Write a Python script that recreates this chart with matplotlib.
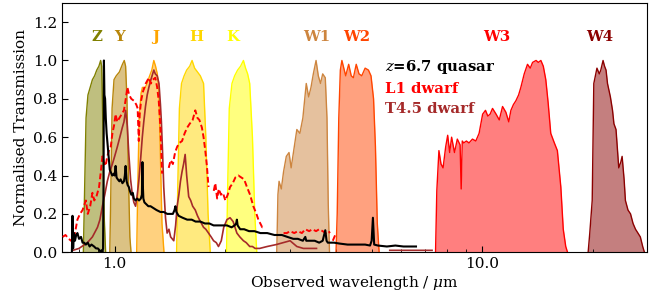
import numpy as np
import matplotlib
matplotlib.use("Agg")
import matplotlib.pyplot as plt
from matplotlib.ticker import FormatStrFormatter, NullFormatter, LogLocator

plt.rcParams['font.family'] = 'DejaVu Serif'
plt.rcParams['mathtext.fontset'] = 'dejavuserif'

# filter curves: (wavelength in micron, normalised transmission)
z_wav = [0.822, 0.828, 0.836, 0.846, 0.858, 0.870, 0.882, 0.894, 0.906, 0.916, 0.922, 0.928, 0.936, 0.945]
z_tr = [0.0, 0.30, 0.70, 0.82, 0.86, 0.90, 0.92, 0.95, 0.97, 1.0, 0.97, 0.70, 0.20, 0.0]
y_wav = [0.970, 0.976, 0.984, 0.996, 1.010, 1.030, 1.050, 1.062, 1.071, 1.080, 1.090, 1.100, 1.108]
y_tr = [0.0, 0.30, 0.75, 0.90, 0.92, 0.94, 0.98, 1.0, 0.97, 0.80, 0.40, 0.08, 0.0]
j_wav = [1.148, 1.156, 1.166, 1.180, 1.190, 1.205, 1.225, 1.245, 1.262, 1.278, 1.292, 1.306, 1.318, 1.330, 1.345, 1.362]
j_tr = [0.0, 0.35, 0.70, 0.83, 0.86, 0.85, 0.88, 0.92, 0.95, 1.0, 0.97, 0.93, 0.86, 0.55, 0.15, 0.0]
h_wav = [1.474, 1.485, 1.500, 1.520, 1.545, 1.570, 1.600, 1.624, 1.650, 1.680, 1.710, 1.745, 1.770, 1.795, 1.820]
h_tr = [0.0, 0.35, 0.75, 0.88, 0.92, 0.95, 0.97, 1.0, 0.96, 0.94, 0.92, 0.88, 0.60, 0.20, 0.0]
k_wav = [2.015, 2.030, 2.050, 2.085, 2.120, 2.160, 2.200, 2.240, 2.270, 2.300, 2.330, 2.370, 2.405, 2.435]
k_tr = [0.0, 0.35, 0.75, 0.88, 0.92, 0.95, 0.97, 1.0, 0.96, 0.93, 0.88, 0.60, 0.20, 0.0]
w1_wav = [2.76, 2.78, 2.80, 2.84, 2.88, 2.93, 2.98, 3.02, 3.08, 3.13, 3.19, 3.25, 3.32, 3.37, 3.42, 3.47,
          3.53, 3.58, 3.63, 3.68, 3.74, 3.78, 3.81, 3.84]
w1_tr = [0.0, 0.30, 0.37, 0.33, 0.42, 0.50, 0.52, 0.44, 0.55, 0.64, 0.62, 0.70, 0.88, 0.81, 0.86, 0.93,
         1.0, 0.92, 0.88, 0.93, 0.91, 0.70, 0.25, 0.0]
w2_wav = [4.00, 4.03, 4.07, 4.11, 4.15, 4.25, 4.33, 4.40, 4.46, 4.54, 4.62, 4.70, 4.80, 4.90, 4.98, 5.06, 5.12, 5.18, 5.24]
w2_tr = [0.0, 0.20, 0.70, 0.95, 1.0, 0.92, 0.98, 0.92, 0.91, 0.98, 0.93, 0.92, 0.96, 0.95, 0.92, 0.80, 0.55, 0.15, 0.0]
w3_wav = [7.46, 7.52, 7.62, 7.72, 7.82, 7.95, 8.05, 8.15, 8.25, 8.40, 8.55, 8.70, 8.76, 8.82, 8.90, 9.05,
          9.20, 9.40, 9.60, 9.80, 10.02, 10.20, 10.35, 10.50, 10.66, 10.90, 11.12, 11.35, 11.59, 11.80, 11.96,
          12.15, 12.34, 12.55, 12.73, 13.00, 13.27, 13.50, 13.70, 14.00, 14.20, 14.43, 14.65, 14.88, 15.10,
          15.35, 15.70, 16.00, 16.35, 16.60, 16.86, 17.05]
w3_tr = [0.0, 0.32, 0.53, 0.46, 0.44, 0.55, 0.61, 0.52, 0.60, 0.52, 0.59, 0.56, 0.33, 0.58, 0.57, 0.58,
         0.57, 0.59, 0.58, 0.62, 0.72, 0.74, 0.71, 0.72, 0.75, 0.72, 0.69, 0.76, 0.73, 0.68, 0.74,
         0.77, 0.79, 0.82, 0.86, 0.93, 0.98, 0.96, 0.99, 1.0, 0.99, 1.0, 0.97, 0.90, 0.78,
         0.62, 0.57, 0.53, 0.34, 0.12, 0.03, 0.0]
w4_wav = [19.4, 19.6, 19.9, 20.1, 20.3, 20.5, 20.8, 21.0, 21.3, 21.5, 21.7, 21.9, 22.3, 22.6, 22.8, 23.1,
          23.5, 23.8, 24.0, 24.3, 24.5, 24.9, 25.3, 25.7, 26.1, 26.5, 26.9, 27.3, 27.6]
w4_tr = [0.0, 0.10, 0.27, 0.88, 0.92, 0.96, 0.93, 0.95, 1.0, 0.97, 0.95, 0.88, 0.81, 0.74, 0.67, 0.64,
         0.44, 0.47, 0.50, 0.38, 0.27, 0.22, 0.20, 0.15, 0.12, 0.10, 0.08, 0.03, 0.0]

filters = [
    ("Z", z_wav, z_tr, "olive", 0.897),
    ("Y", y_wav, y_tr, "darkgoldenrod", 1.03),
    ("J", j_wav, j_tr, "orange", 1.29),
    ("H", h_wav, h_tr, "gold", 1.67),
    ("K", k_wav, k_tr, "yellow", 2.10),
    ("W1", w1_wav, w1_tr, "peru", 3.54),
    ("W2", w2_wav, w2_tr, "orangered", 4.55),
    ("W3", w3_wav, w3_tr, "red", 10.95),
    ("W4", w4_wav, w4_tr, "darkred", 20.8),
]

# z=6.7 quasar spectrum
qso_wav = [0.765, 0.768, 0.771, 0.775, 0.780, 0.786, 0.792, 0.800, 0.810, 0.818, 0.826, 0.835, 0.845, 0.855,
           0.865, 0.879, 0.890, 0.900, 0.910, 0.916, 0.922, 0.926, 0.930, 0.933, 0.935, 0.938, 0.942, 0.946,
           0.951, 0.958, 0.965, 0.970, 0.975, 0.985, 0.995, 1.000, 1.006, 1.012, 1.020, 1.030, 1.038, 1.050,
           1.060, 1.066, 1.071, 1.078, 1.085, 1.093, 1.100, 1.110, 1.120, 1.128, 1.140, 1.152, 1.165, 1.178,
           1.186, 1.190, 1.193, 1.197, 1.205, 1.220, 1.235, 1.252, 1.275, 1.300, 1.332, 1.360, 1.390, 1.418,
           1.440, 1.455, 1.463, 1.472, 1.493, 1.530, 1.575, 1.620, 1.660, 1.710, 1.760, 1.810, 1.858, 1.920,
           1.970, 2.020, 2.080, 2.120, 2.140, 2.150, 2.160, 2.195, 2.250, 2.320, 2.400, 2.490, 2.600, 2.720,
           2.850, 2.950, 3.060, 3.150, 3.250, 3.300, 3.320, 3.400, 3.500, 3.600, 3.680, 3.740, 3.770, 3.800,
           3.850, 3.950, 4.100, 4.300, 4.500, 4.630, 4.800, 4.950, 5.000, 5.040, 5.080, 5.200, 5.500, 5.800,
           6.100, 6.400, 6.600]
qso_flux = [0.0, 0.19, 0.02, 0.10, 0.06, 0.09, 0.10, 0.07, 0.08, 0.05, 0.05, 0.04, 0.05, 0.03,
            0.04, 0.03, 0.02, 0.02, 0.01, 0.0, 0.01, 0.0, 0.02, 0.40, 1.0, 0.82, 0.80, 0.70,
            0.62, 0.55, 0.48, 0.43, 0.42, 0.40, 0.41, 0.40, 0.45, 0.39, 0.38, 0.37, 0.38, 0.36,
            0.37, 0.40, 0.45, 0.37, 0.35, 0.34, 0.32, 0.30, 0.31, 0.28, 0.27, 0.28, 0.27, 0.28,
            0.30, 0.47, 0.35, 0.28, 0.26, 0.25, 0.24, 0.24, 0.23, 0.22, 0.21, 0.21, 0.20, 0.20,
            0.20, 0.22, 0.24, 0.21, 0.19, 0.18, 0.17, 0.17, 0.16, 0.16, 0.15, 0.15, 0.14, 0.14,
            0.14, 0.14, 0.13, 0.14, 0.15, 0.17, 0.14, 0.12, 0.12, 0.11, 0.11, 0.10, 0.10, 0.09,
            0.09, 0.08, 0.07, 0.07, 0.06, 0.08, 0.06, 0.06, 0.06, 0.05, 0.06, 0.115, 0.06, 0.05,
            0.05, 0.05, 0.045, 0.04, 0.04, 0.04, 0.04, 0.035, 0.06, 0.18, 0.04, 0.035, 0.03, 0.035,
            0.03, 0.03, 0.03]

# L1 dwarf spectrum (NaN = gap)
l1_wav = [0.722, 0.735, 0.750, 0.768, 0.780, 0.792, 0.805, 0.818, 0.828, 0.835, 0.845, 0.858, 0.870, 0.880,
          0.892, 0.907, 0.917, 0.926, 0.935, 0.945, 0.955, 0.965, 0.976, 0.986, 0.996, 1.006, 1.016, 1.030,
          1.045, 1.060, 1.072, 1.083, 1.095, 1.110, 1.128, 1.145, 1.155, 1.163, 1.170, 1.180, 1.195, 1.215,
          1.239, 1.255, 1.270, 1.290, 1.305, 1.318, 1.332, 1.346, np.nan,
          1.403, 1.420, 1.440, 1.460, 1.479, 1.500, 1.525, 1.550, 1.575, 1.600, 1.630, 1.657, 1.680, 1.700,
          1.727, 1.745, 1.764, 1.782, 1.800, np.nan,
          1.860, 1.878, 1.900, 1.920, 1.945, 1.970, 2.000, 2.030, 2.060, 2.095, 2.130, 2.170, 2.210, 2.250,
          2.290, 2.335, 2.383, 2.430, 2.460, 2.490, 2.520, 2.550, np.nan,
          2.880, 2.940, 3.000, 3.080, 3.150, 3.230, 3.300, 3.380, 3.450, 3.530, 3.600, 3.680, 3.750, 3.820,
          3.850, np.nan, 3.920, 3.960, 4.000]
l1_flux = [0.08, 0.09, 0.07, 0.054, 0.10, 0.17, 0.20, 0.22, 0.25, 0.27, 0.20, 0.24, 0.31, 0.27,
           0.29, 0.34, 0.42, 0.50, 0.47, 0.45, 0.50, 0.53, 0.55, 0.62, 0.66, 0.72, 0.68, 0.70,
           0.72, 0.74, 0.80, 0.86, 0.82, 0.80, 0.79, 0.77, 0.75, 0.58, 0.72, 0.79, 0.84, 0.88,
           0.91, 0.88, 0.90, 0.91, 0.86, 0.79, 0.65, 0.41, np.nan,
           0.44, 0.48, 0.46, 0.52, 0.55, 0.57, 0.58, 0.62, 0.65, 0.67, 0.69, 0.74, 0.70, 0.69,
           0.65, 0.60, 0.53, 0.45, 0.34, np.nan,
           0.32, 0.36, 0.28, 0.33, 0.30, 0.31, 0.27, 0.30, 0.34, 0.36, 0.39, 0.40, 0.39, 0.38,
           0.34, 0.30, 0.24, 0.20, 0.17, 0.15, 0.13, 0.14, np.nan,
           0.10, 0.10, 0.11, 0.10, 0.11, 0.10, 0.12, 0.11, 0.12, 0.11, 0.12, 0.11, 0.10, 0.11,
           0.10, np.nan, 0.06, 0.08, 0.10]

# T4.5 dwarf spectrum
t45_wav = [0.770, 0.800, 0.843, 0.870, 0.898, 0.912, 0.926, 0.940, 0.955, 0.970, 0.986, 1.000, 1.017, 1.033,
           1.049, 1.060, 1.071, 1.082, 1.093, 1.105, 1.117, 1.128, 1.140, 1.152, 1.163, 1.176, 1.189, 1.200,
           1.213, 1.226, 1.239, 1.255, 1.278, 1.290, 1.305, 1.320, 1.332, 1.340, 1.350, 1.360, 1.375, 1.389,
           1.405, 1.420, 1.448, 1.465, 1.479, 1.495, 1.510, 1.525, 1.540, 1.555, 1.570, 1.590, 1.610, 1.630,
           1.657, 1.680, 1.700, 1.745, 1.770, 1.800, 1.830, 1.858, 1.890, 1.916, 1.950, 1.980, 2.000, 2.020,
           2.060, 2.100, 2.150, 2.190, 2.240, 2.280, 2.330, 2.370, 2.410, 2.480, 2.600, 2.750, 3.000, 3.130,
           3.260, 3.400, 3.540, np.nan, 5.60, 5.90, 6.20, 6.60, 7.00, 7.30]
t45_flux = [0.01, 0.02, 0.05, 0.08, 0.13, 0.17, 0.24, 0.30, 0.37, 0.42, 0.46, 0.50, 0.55, 0.60,
            0.65, 0.68, 0.74, 0.66, 0.51, 0.38, 0.30, 0.26, 0.24, 0.30, 0.37, 0.48, 0.60, 0.68,
            0.76, 0.82, 0.86, 0.90, 0.95, 0.93, 0.92, 0.88, 0.77, 0.68, 0.52, 0.34, 0.18, 0.10,
            0.12, 0.08, 0.06, 0.14, 0.24, 0.30, 0.37, 0.42, 0.46, 0.51, 0.40, 0.29, 0.27, 0.24,
            0.22, 0.19, 0.17, 0.13, 0.12, 0.10, 0.08, 0.06, 0.05, 0.03, 0.06, 0.13, 0.15, 0.17,
            0.18, 0.16, 0.10, 0.08, 0.06, 0.05, 0.03, 0.03, 0.02, 0.02, 0.03, 0.04, 0.06, 0.03,
            0.02, 0.02, 0.02, np.nan, 0.01, 0.01, 0.01, 0.01, 0.01, 0.01]

fig = plt.figure(figsize=(6.64, 2.94), dpi=100)
ax = fig.add_axes([0.093, 0.142, 0.881, 0.848])

for name, wav, tr, col, xlab in filters:
    ax.fill_between(wav, 0, tr, color=col, alpha=0.5, linewidth=0, zorder=1)
    ax.plot(wav, tr, color=col, linewidth=1.0, zorder=2)
    ax.text(xlab, 1.125, name, color=col, fontsize=10.7, fontweight='bold',
            ha='center', va='center')

ax.plot(t45_wav, t45_flux, color='brown', linewidth=1.2, zorder=3)
ax.plot(l1_wav, l1_flux, color='red', linestyle='--', linewidth=1.4, dashes=(3, 1.5), zorder=4)
ax.plot(qso_wav, qso_flux, color='black', linewidth=1.5, zorder=5)

ax.text(5.45, 0.965, r'$z$=6.7 quasar', color='black', fontsize=10.7, fontweight='bold', va='center')
ax.text(5.45, 0.853, 'L1 dwarf', color='red', fontsize=10.7, fontweight='bold', va='center')
ax.text(5.45, 0.748, 'T4.5 dwarf', color='brown', fontsize=10.7, fontweight='bold', va='center')

ax.set_xscale('log')
ax.set_xlim(0.718, 28.0)
ax.set_ylim(0.0, 1.3)
ax.set_yticks([0.0, 0.2, 0.4, 0.6, 0.8, 1.0, 1.2])
ax.xaxis.set_major_locator(LogLocator(base=10))
ax.xaxis.set_major_formatter(FormatStrFormatter('%.1f'))
ax.xaxis.set_minor_locator(LogLocator(base=10, subs=np.arange(2, 10)))
ax.xaxis.set_minor_formatter(NullFormatter())
ax.yaxis.set_major_formatter(FormatStrFormatter('%.1f'))
ax.tick_params(which='both', direction='in', top=False, right=False, labelsize=11)
ax.tick_params(which='major', length=4)
ax.tick_params(which='minor', length=2)

ax.set_xlabel(r'Observed wavelength / $\mu$m', fontsize=11, labelpad=2)
ax.set_ylabel('Normalised Transmission', fontsize=11, labelpad=3)

plt.savefig("out.png", dpi=100)
